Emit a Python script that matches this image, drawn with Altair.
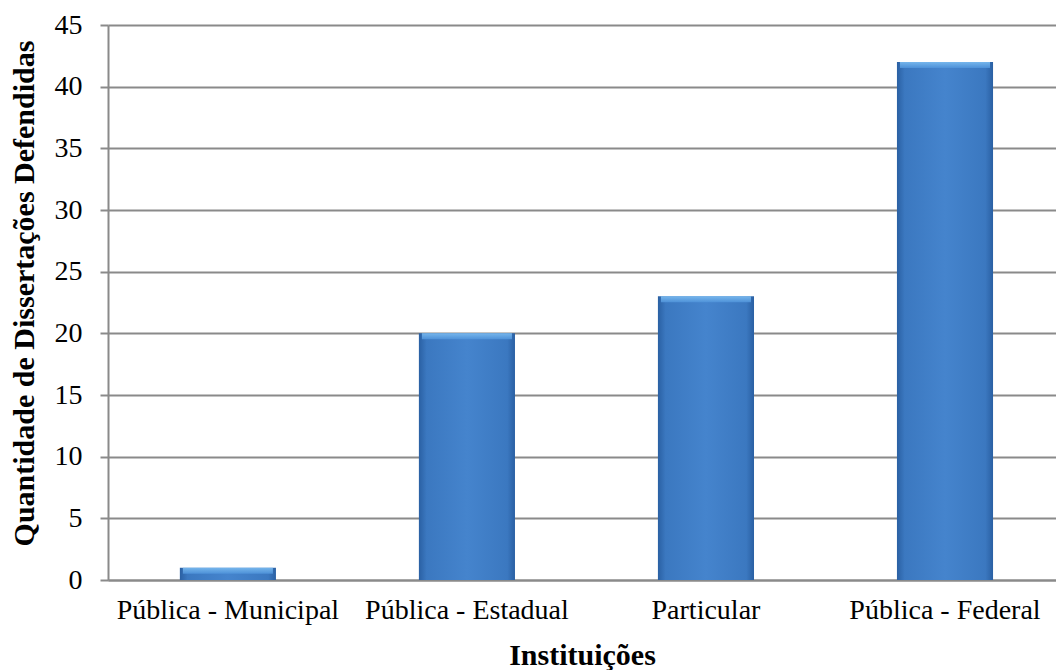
import altair as alt
import pandas as pd

categories = ["Pública - Municipal", "Pública - Estadual", "Particular", "Pública - Federal"]
values = [1, 20, 23, 42]
y_ticks = [0, 5, 10, 15, 20, 25, 30, 35, 40, 45]

df = pd.DataFrame({"inst": categories, "qtd": values})

FONT = "Times New Roman, Liberation Serif, DejaVu Serif, serif"
GRID = "#8a8a8a"

xscale = alt.Scale(domain=categories, paddingInner=0.598, paddingOuter=0.282, align=0.533)
yscale = alt.Scale(domain=[0, 45], nice=False, zero=True)

x_enc = alt.X(
    "inst:N", scale=xscale, sort=categories, title="Instituições",
    axis=alt.Axis(
        labelFont=FONT, labelFontSize=28, labelColor="#000000", labelAngle=0,
        labelPadding=16, ticks=False, domain=True, domainColor=GRID, domainWidth=2,
        titleFont=FONT, titleFontSize=30, titleFontWeight="bold", titleColor="#000000",
        titleY=84, titleBaseline="alphabetic", labelLimit=400,
    ),
)
y_enc = alt.Y(
    "qtd:Q", scale=yscale, title="Quantidade de Dissertações Defendidas",
    axis=alt.Axis(
        values=y_ticks, labelFont=FONT, labelFontSize=28, labelColor="#000000",
        labelPadding=18, tickSize=8, tickColor=GRID, tickWidth=2,
        domainColor=GRID, domainWidth=2,
        grid=True, gridColor=GRID, gridWidth=2,
        titleFont=FONT, titleFontSize=30, titleFontWeight="bold", titleColor="#000000",
        titleX=-84, titleY=268, titleAlign="center", titleBaseline="middle", titleAngle=-90,
    ),
)

body_grad = alt.Gradient(
    gradient="linear", x1=0, x2=1, y1=0, y2=0,
    stops=[
        alt.GradientStop(color="#2a60a3", offset=0),
        alt.GradientStop(color="#3b78c0", offset=0.08),
        alt.GradientStop(color="#4584cd", offset=0.5),
        alt.GradientStop(color="#3b78c0", offset=0.92),
        alt.GradientStop(color="#2a60a3", offset=1),
    ],
)
top_grad = alt.Gradient(
    gradient="linear", x1=0, x2=0, y1=0, y2=1,
    stops=[
        alt.GradientStop(color="#7cbcf0", offset=0),
        alt.GradientStop(color="#4f93da", offset=1),
    ],
)

bars = alt.Chart(df).mark_bar(color=body_grad).encode(x=x_enc, y=y_enc)
tops = alt.Chart(df).mark_tick(color=top_grad, thickness=6, size=90, yOffset=3, opacity=0.9).encode(
    x=alt.X("inst:N", scale=xscale, sort=categories), y=alt.Y("qtd:Q", scale=yscale)
)

chart = alt.layer(bars, tops).properties(
    width=948, height=555,
    autosize=alt.AutoSizeParams(type="none"),
    padding={"left": 108, "top": 25, "right": 0, "bottom": 90},
    background="#ffffff",
).configure_view(stroke=None)

chart.save("out.html", embed_options={"renderer": "svg", "actions": False})
